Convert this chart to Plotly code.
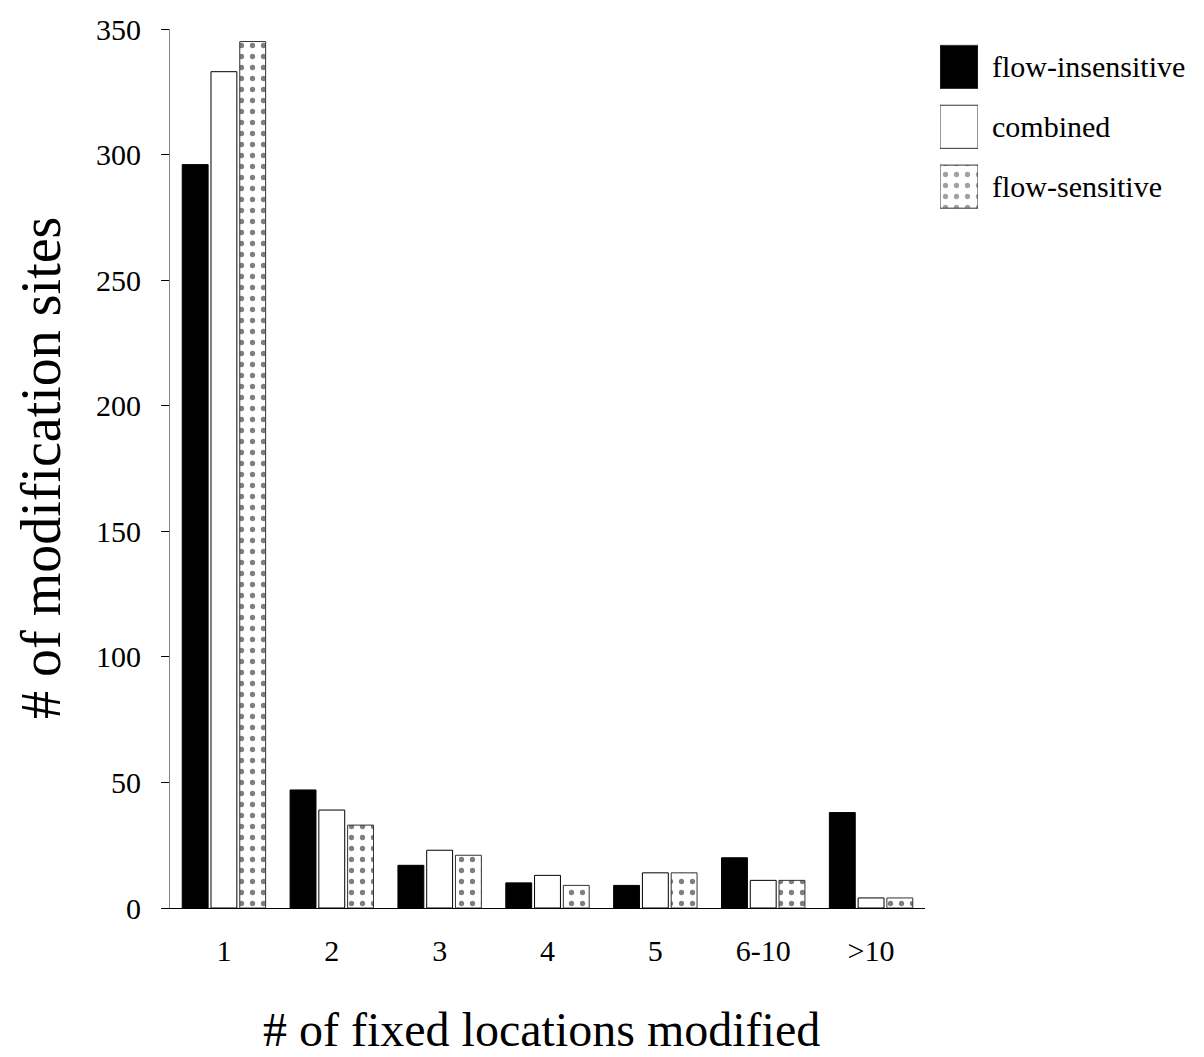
import plotly.graph_objects as go

categories = ["1", "2", "3", "4", "5", "6-10", ">10"]
flow_insensitive = [296, 47, 17, 10, 9, 20, 38]
combined = [333, 39, 23, 13, 14, 11, 4]
flow_sensitive = [345, 33, 21, 9, 14, 11, 4]
series_names = ["flow-insensitive", "combined", "flow-sensitive"]
y_ticks = [0, 50, 100, 150, 200, 250, 300, 350]

FONT = "Liberation Serif, Times New Roman, Times, serif"
OFF = 8  # page body offset
W, H = 1204 - OFF, 1057 - OFF
ML, MR, MT = 170 - OFF, 4, 27 - OFF
MB = H - (908 - OFF)
PW = W - ML - MR
PH = H - MT - MB

def px_x(p):
    return (p - OFF - ML) / PW

def px_y(p):
    return (H - MB - (p - OFF)) / PH

fig = go.Figure()

fig.add_trace(go.Bar(
    x=categories, y=flow_insensitive, name=series_names[0],
    marker=dict(color="black", line=dict(color="black", width=1)),
    showlegend=False, xaxis="x", yaxis="y"))
fig.add_trace(go.Bar(
    x=categories, y=combined, name=series_names[1],
    marker=dict(color="white", line=dict(color="black", width=1)),
    showlegend=False, xaxis="x", yaxis="y"))
fig.add_trace(go.Bar(
    x=categories, y=flow_sensitive, name=series_names[2],
    marker=dict(color="white", line=dict(color="#333", width=1),
                pattern=dict(shape=".", fgcolor="black", bgcolor="white",
                             size=11, solidity=0.18)),
    showlegend=False, xaxis="x", yaxis="y"))

# custom legend swatches
fig.add_trace(go.Bar(
    x=[1, 1, 1], y=[0, 1, 2], orientation="h", width=0.72,
    marker=dict(color=["black", "white", "white"],
                line=dict(color="#333", width=1),
                pattern=dict(shape=["", "", "."], fgcolor="black",
                             bgcolor="white", size=11, solidity=0.18)),
    showlegend=False, hoverinfo="skip", xaxis="x2", yaxis="y2"))

annotations = []
for i, n in enumerate(series_names):
    annotations.append(dict(
        x=px_x(990), y=i, xref="paper", yref="y2", text=n, showarrow=False,
        xanchor="left", yanchor="middle",
        font=dict(family=FONT, size=30, color="black")))

annotations.append(dict(
    x=px_x(541), y=px_y(1030), xref="paper", yref="paper",
    text="# of fixed locations modified", showarrow=False,
    xanchor="center", yanchor="middle",
    font=dict(family=FONT, size=48, color="black")))
annotations.append(dict(
    x=px_x(41), y=px_y(467), xref="paper", yref="paper",
    text="# of modification sites", showarrow=False, textangle=-90,
    xanchor="center", yanchor="middle",
    font=dict(family=FONT, size=56, color="black")))

fig.update_layout(
    width=W, height=H,
    margin=dict(l=ML, r=MR, t=MT, b=MB),
    paper_bgcolor="white", plot_bgcolor="white",
    barmode="group", bargap=0.2, bargroupgap=0.1,
    font=dict(family=FONT, size=30, color="black"),
    annotations=annotations,
    xaxis=dict(
        domain=[0, px_x(925)], type="category", range=[-0.5, 6.5],
        showline=True, linecolor="black", linewidth=1.2,
        ticks="", showgrid=False, zeroline=False,
        ticklabelstandoff=16,
        tickfont=dict(family=FONT, size=30, color="black")),
    yaxis=dict(
        range=[0, 350], tickvals=y_ticks,
        showline=True, linecolor="#888", linewidth=1.2,
        ticks="outside", ticklen=8, tickcolor="black", tickwidth=1,
        showgrid=False, zeroline=False,
        ticklabelstandoff=14,
        tickfont=dict(family=FONT, size=30, color="black")),
    xaxis2=dict(domain=[px_x(940), px_x(978)], range=[0, 1],
                visible=False, anchor="y2"),
    yaxis2=dict(domain=[px_y(215), px_y(35)], range=[2.5, -0.5],
                visible=False, anchor="x2"),
)

fig.write_html("out.html")
